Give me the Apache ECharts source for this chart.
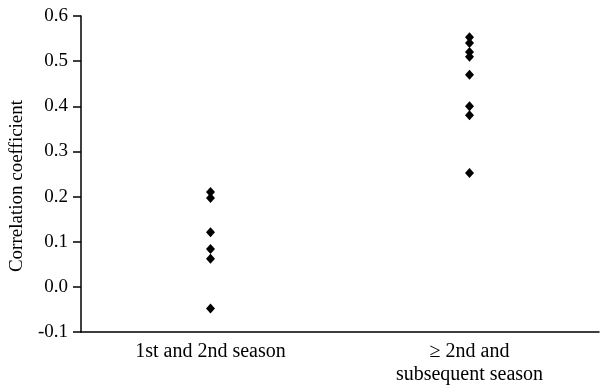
<!DOCTYPE html>
<html><head><meta charset="utf-8">
<script src="https://cdn.jsdelivr.net/npm/echarts@6/dist/echarts.min.js"></script>
<style>html,body{margin:0;padding:0;background:#fff}#c{width:602px;height:386px}</style>
</head><body><div id="c"></div>
<script>
const categories = ['1st and 2nd season', '≥ 2nd and\nsubsequent season'];
const group1 = [0.21, 0.197, 0.121, 0.084, 0.062, -0.048];
const group2 = [0.553, 0.54, 0.52, 0.51, 0.47, 0.40, 0.38, 0.252];
const yTicks = { min: -0.1, max: 0.6, interval: 0.1 };

const data = [];
group1.forEach(v => data.push([categories[0], v]));
group2.forEach(v => data.push([categories[1], v]));

const font = '"Liberation Serif", "Times New Roman", serif';
const chart = echarts.init(document.getElementById('c'), null, { renderer: 'canvas' });
chart.setOption({
  animation: false,
  backgroundColor: '#fff',
  grid: { left: 76, right: 3, top: 16, bottom: 52 },
  xAxis: {
    type: 'category',
    data: categories,
    axisLine: { onZero: false, lineStyle: { color: '#000', width: 1.5 } },
    axisTick: { show: false },
    axisLabel: { color: '#000', fontFamily: font, fontSize: 20, margin: 8, lineHeight: 23 },
    splitLine: { show: false }
  },
  yAxis: {
    type: 'value',
    min: yTicks.min, max: yTicks.max, interval: yTicks.interval,
    name: 'Correlation coefficient',
    nameLocation: 'middle',
    nameGap: 54,
    nameTextStyle: { color: '#000', fontFamily: font, fontSize: 19, padding: [0, 24, 0, 0] },
    axisLine: { show: true, lineStyle: { color: '#000', width: 1.5 } },
    axisTick: { show: true, length: 8, lineStyle: { color: '#000', width: 1.5 } },
    axisLabel: { color: '#000', fontFamily: font, fontSize: 19, margin: 13,
      formatter: v => v.toFixed(1) },
    splitLine: { show: false }
  },
  series: [{
    type: 'scatter',
    data: data,
    symbol: 'diamond',
    symbolSize: [9, 10],
    itemStyle: { color: '#000', opacity: 1 }
  }]
});
</script></body></html>
